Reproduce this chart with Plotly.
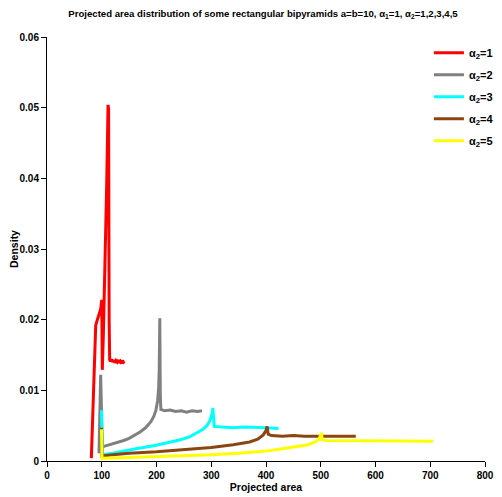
import plotly.graph_objects as go

# ---- data ----
series_names = ["α<sub>2</sub>=1", "α<sub>2</sub>=2", "α<sub>2</sub>=3", "α<sub>2</sub>=4", "α<sub>2</sub>=5"]
series_colors = ["#ff0000", "#808080", "#00ffff", "#8b4513", "#ffff00"]

x1 = [81, 85, 89, 92, 95, 98, 100, 101, 103, 106, 109, 111.5, 112.5, 113.5, 114.5, 116, 118, 120, 122, 124, 126, 128, 130, 132, 134, 136, 138, 140, 141]
y1 = [0.0004, 0.0090, 0.0192, 0.0200, 0.0208, 0.0215, 0.0228, 0.0129, 0.0180, 0.0270, 0.0390, 0.0504, 0.0498, 0.0200, 0.0143, 0.0141, 0.0144, 0.0140, 0.0143, 0.0139, 0.0142, 0.0140, 0.0143, 0.0139, 0.0141, 0.0138, 0.0142, 0.0140, 0.0141]

x2 = [95, 98, 101, 110, 120, 130, 140, 150, 160, 170, 180, 190, 195, 199, 202, 204, 205, 206, 207, 208, 215, 225, 235, 245, 255, 265, 275, 283]
y2 = [0.0011, 0.0122, 0.0020, 0.0022, 0.0024, 0.0026, 0.0029, 0.0032, 0.0036, 0.0041, 0.0047, 0.0056, 0.0063, 0.0072, 0.0085, 0.0105, 0.0130, 0.0202, 0.0090, 0.0073, 0.0071, 0.0072, 0.0070, 0.0071, 0.0069, 0.0071, 0.0070, 0.0071]

x3 = [99.5, 101, 120, 137, 160, 197, 220, 244, 260, 274, 285, 292, 297, 300, 302, 303, 304, 305.5, 320, 340, 360, 380, 400, 423]
y3 = [0.0072, 0.0009, 0.0011, 0.0014, 0.0017, 0.0022, 0.0026, 0.0030, 0.0034, 0.0040, 0.0045, 0.0050, 0.0056, 0.0063, 0.0068, 0.0075, 0.0058, 0.0049, 0.0048, 0.0047, 0.0048, 0.0047, 0.0047, 0.0046]

x4 = [99.5, 100.5, 120, 150, 200, 250, 300, 340, 370, 385, 395, 400, 402, 404, 410, 430, 450, 470, 490, 510, 530, 550, 564]
y4 = [0.0047, 0.0007, 0.0009, 0.0011, 0.0013, 0.0016, 0.0019, 0.0023, 0.0027, 0.0031, 0.0037, 0.0043, 0.0049, 0.0038, 0.0036, 0.0035, 0.0036, 0.0035, 0.0035, 0.0036, 0.0035, 0.0035, 0.0035]

x5 = [99.5, 100.5, 150, 200, 250, 300, 350, 400, 436, 460, 477, 490, 497, 501, 503, 510, 530, 560, 590, 620, 650, 680, 705]
y5 = [0.0045, 0.0004, 0.0005, 0.0006, 0.0007, 0.0009, 0.0011, 0.0014, 0.0018, 0.0021, 0.0023, 0.0027, 0.0031, 0.0040, 0.0030, 0.0029, 0.0029, 0.0028, 0.0029, 0.0028, 0.0028, 0.0028, 0.0028]

xs = [x1, x2, x3, x4, x5]
ys = [y1, y2, y3, y4, y5]

x_ticks = [0, 100, 200, 300, 400, 500, 600, 700, 800]
y_ticks = [0, 0.01, 0.02, 0.03, 0.04, 0.05, 0.06]

title_text = "Projected area distribution of some rectangular bipyramids a=b=10, α<sub>1</sub>=1, α<sub>2</sub>=1,2,3,4,5"

FONT = "Liberation Sans Narrow, Arial Narrow, Liberation Sans, Arial, sans-serif"

W, H = 494, 489

fig = go.Figure()
for i, (name, color, xv, yv) in enumerate(zip(series_names, series_colors, xs, ys)):
    fig.add_trace(go.Scatter(x=xv, y=yv, mode="lines", name=name, legendgroup=f"g{i}",
                             line=dict(color=color, width=3)))

axis_common = dict(showline=True, linecolor="black", linewidth=1, ticks="outside",
                   ticklen=5, tickcolor="black", showgrid=False, zeroline=False,
                   automargin=False,
                   tickfont=dict(family=FONT, size=10, color="black", weight="bold"))

fig.update_layout(
    width=W, height=H,
    margin=dict(l=39, r=17, t=29, b=36, autoexpand=False),
    paper_bgcolor="white", plot_bgcolor="white",
    font=dict(family=FONT, color="black"),
    title=dict(text=title_text, x=255 / W, xanchor="center",
               y=1 - 6 / H, yanchor="middle", yref="container",
               font=dict(family=FONT, size=9.6, color="black", weight="bold")),
    xaxis=dict(range=[0, 800], tickvals=x_ticks,
               title=dict(text="Projected area", standoff=3,
                          font=dict(family=FONT, size=10.5, color="black", weight="bold")),
               **axis_common),
    yaxis=dict(range=[0, 0.06], tickvals=y_ticks,
               title=dict(text="Density", standoff=0,
                          font=dict(family=FONT, size=10.5, color="black", weight="bold")),
               **axis_common),
    legend=dict(x=0.872, y=0.997, xanchor="left", yanchor="top",
                bgcolor="rgba(0,0,0,0)", itemwidth=30, tracegroupgap=3,
                font=dict(family=FONT, size=11, color="black", weight="bold")),
)

fig.write_html("out.html")
